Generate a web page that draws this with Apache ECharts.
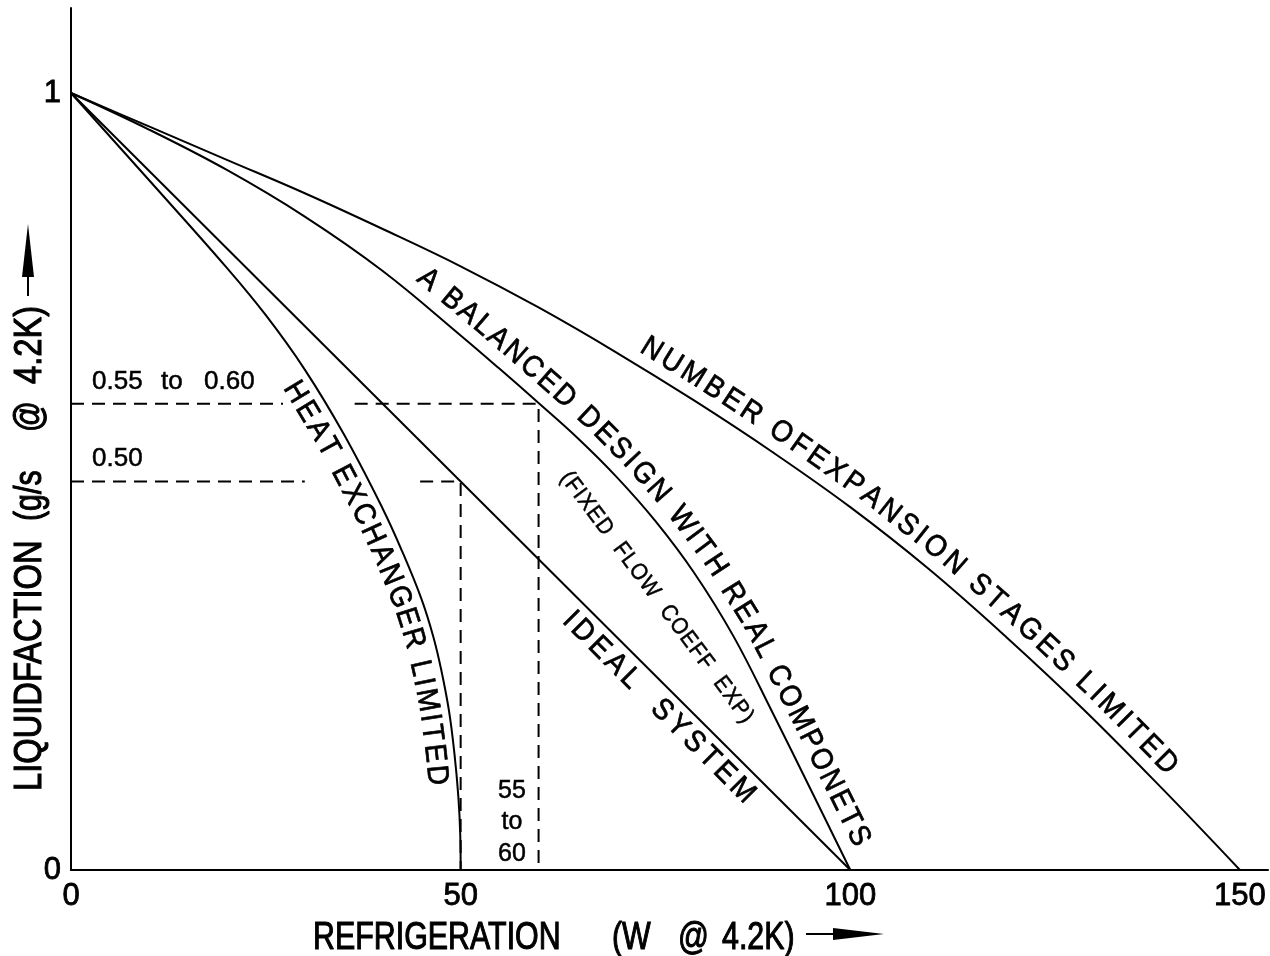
<!DOCTYPE html>
<html>
<head>
<meta charset="utf-8">
<title>Liquefaction vs Refrigeration</title>
<script src="https://cdn.jsdelivr.net/npm/echarts@6.0.0/dist/echarts.min.js"></script>
<style>
html,body{margin:0;padding:0;background:#ffffff;}
#chart{width:1270px;height:956px;}
</style>
</head>
<body>
<div id="chart"></div>
<script>
// ---------------- data ----------------
const xTickValues = [0, 50, 100, 150];
const yTickValues = [0, 1];

const idealX = [0, 100];
const idealY = [1, 0];

const heatX = [0, 10, 20, 25, 30, 35, 40, 42.5, 45, 46.5, 47.5, 48.5, 49.2, 49.7, 49.95, 50];
const heatY = [1, 0.888, 0.775, 0.714, 0.644, 0.561, 0.465, 0.410, 0.348, 0.300, 0.258, 0.205, 0.150, 0.095, 0.045, 0];

const balancedX = [0, 10, 20, 30, 40, 50, 55, 60, 65, 70, 75, 80, 85, 90, 95, 100];
const balancedY = [1, 0.953, 0.901, 0.841, 0.771, 0.688, 0.645, 0.601, 0.556, 0.506, 0.449, 0.382, 0.301, 0.203, 0.102, 0];

const stagesX = [0, 10, 20, 30, 40, 50, 60, 70, 80, 90, 100, 110, 120, 130, 140, 150];
const stagesY = [1, 0.957, 0.914, 0.871, 0.825, 0.777, 0.724, 0.666, 0.604, 0.538, 0.467, 0.388, 0.300, 0.206, 0.105, 0];

const guide60Segments = [[[0, 0.6], [27.2, 0.6]], [[36.4, 0.6], [60, 0.6], [60, 0]]];
const guide50Segments = [[[0, 0.5], [30, 0.5]], [[44.8, 0.5], [50, 0.5], [50, 0]]];

const xAxisTitleParts = ['REFRIGERATION', '(W', '@', '4.2K)'];
const yAxisTitleParts = ['LIQUIDFACTION', '(g/s', '@', '4.2K)'];

// ---------------- chart ----------------
const REGULAR = '"Liberation Sans",Arial,Helvetica,sans-serif';
const NARROW_SCALE = 0.8;
const X_MAX = 153.6, Y_MAX = 1.1094;

const chart = echarts.init(document.getElementById('chart'), null, {renderer: 'canvas'});

function pairs(xs, ys) { return xs.map((x, i) => [x, ys[i]]); }
const solid = {color: '#000', width: 2};
const dashed = {color: '#000', width: 2, type: [13, 8]};

const series = [
  {name: 'Ideal system', data: pairs(idealX, idealY), smooth: false},
  {name: 'Heat exchanger limited', data: pairs(heatX, heatY), smooth: 0.4},
  {name: 'Balanced design', data: pairs(balancedX, balancedY), smooth: 0.4},
  {name: 'Expansion stages limited', data: pairs(stagesX, stagesY), smooth: 0.4}
].map(s => Object.assign({type: 'line', showSymbol: false, symbol: 'none', lineStyle: solid, silent: true, z: 3}, s));

guide60Segments.concat(guide50Segments).forEach((seg, i) => {
  series.push({type: 'line', name: 'guide' + i, data: seg, showSymbol: false, symbol: 'none', lineStyle: dashed, silent: true, z: 2});
});

const tickLabelStyle = {
  color: '#000', fontFamily: REGULAR, fontSize: 31,
  textBorderColor: '#000', textBorderWidth: 0.8, showMaxLabel: false
};

chart.setOption({
  animation: false,
  backgroundColor: '#ffffff',
  grid: {left: 71, right: 2, top: 8, bottom: 86, containLabel: false},
  xAxis: {
    type: 'value', min: 0, max: X_MAX, interval: 50,
    axisLine: {show: true, lineStyle: {color: '#000', width: 2}},
    axisTick: {show: false}, splitLine: {show: false},
    axisLabel: Object.assign({margin: 11, formatter: v => xTickValues.indexOf(v) >= 0 ? String(v) : ''}, tickLabelStyle)
  },
  yAxis: {
    type: 'value', min: 0, max: Y_MAX, interval: 1,
    axisLine: {show: true, lineStyle: {color: '#000', width: 2}},
    axisTick: {show: false}, splitLine: {show: false},
    axisLabel: Object.assign({margin: 10, formatter: v => yTickValues.indexOf(v) >= 0 ? String(v) : ''}, tickLabelStyle)
  },
  series: series
});

// ---------------- text along curves ----------------
const mctx = document.createElement('canvas').getContext('2d');
function toPx(x, y) { return chart.convertToPixel({gridIndex: 0}, [x, y]); }
function buildPath(pts) {
  const cum = [0];
  for (let i = 1; i < pts.length; i++) {
    cum.push(cum[i - 1] + Math.hypot(pts[i][0] - pts[i - 1][0], pts[i][1] - pts[i - 1][1]));
  }
  return {pts, cum, total: cum[cum.length - 1]};
}
function pointAt(path, s) {
  const {pts, cum} = path;
  let i = 1;
  while (i < pts.length - 1 && cum[i] < s) i++;
  const a = pts[i - 1], b = pts[i];
  const L = cum[i] - cum[i - 1] || 1;
  const t = (s - cum[i - 1]) / L;
  return [a[0] + (b[0] - a[0]) * t, a[1] + (b[1] - a[1]) * t];
}
function angleAt(path, s) {
  const p1 = pointAt(path, s - 14), p2 = pointAt(path, s + 14);
  return Math.atan2(p2[1] - p1[1], p2[0] - p1[0]);
}
function arcAtPxX(path, px) {
  const {pts, cum} = path;
  for (let i = 1; i < pts.length; i++) {
    if (pts[i][0] >= px) {
      const a = pts[i - 1], b = pts[i];
      const t = (b[0] - a[0]) ? (px - a[0]) / (b[0] - a[0]) : 0;
      return cum[i - 1] + (cum[i] - cum[i - 1]) * t;
    }
  }
  return path.total;
}
function textAlong(path, text, sStart, sEnd, offset, size, sx, weight) {
  const font = 'normal ' + size + 'px ' + REGULAR;
  mctx.font = font;
  const chars = Array.from(text);
  const widths = chars.map(c => mctx.measureText(c).width * sx);
  const total = widths.reduce((a, b) => a + b, 0);
  const gaps = chars.length - 1;
  const extra = gaps > 0 ? ((sEnd - sStart) - total) / gaps : 0;
  const els = [];
  let s = sStart;
  chars.forEach((c, k) => {
    const mid = s + widths[k] / 2;
    if (c !== ' ') {
      const p = pointAt(path, mid);
      const th = angleAt(path, mid);
      els.push({
        type: 'text', silent: true, z: 10,
        x: p[0] + Math.sin(th) * offset,
        y: p[1] - Math.cos(th) * offset,
        rotation: -th, scaleX: sx,
        style: {text: c, font: font, fill: '#000', stroke: '#000', lineWidth: weight,
                align: 'center', verticalAlign: 'middle', textAlign: 'center', textVerticalAlign: 'middle'}
      });
    }
    s += widths[k] + extra;
  });
  return els;
}

const curvePaths = {
  ideal: buildPath(pairs(idealX, idealY).map(p => toPx(p[0], p[1]))),
  heat: buildPath(pairs(heatX, heatY).map(p => toPx(p[0], p[1]))),
  balanced: buildPath(pairs(balancedX, balancedY).map(p => toPx(p[0], p[1]))),
  stages: buildPath(pairs(stagesX, stagesY).map(p => toPx(p[0], p[1])))
};

const curveLabels = [
  {path: 'stages', text: 'NUMBER OFEXPANSION STAGES LIMITED', from: 72, to: 139.5, offset: 21, size: 30},
  {path: 'balanced', text: 'A BALANCED DESIGN WITH REAL COMPONETS', from: 43.1, to: 99, offset: 22, size: 30},
  {path: 'ideal', text: 'IDEAL  SYSTEM', from: 65.5, to: 89, offset: -20, size: 30},
  {path: 'heat', text: 'HEAT EXCHANGER LIMITED', from: 30.3, to: 49.55, offset: -20, size: 30}
];

const graphics = [];
curveLabels.forEach(l => {
  const path = curvePaths[l.path];
  const s0 = arcAtPxX(path, toPx(l.from, 0)[0]);
  const s1 = arcAtPxX(path, toPx(l.to, 0)[0]);
  textAlong(path, l.text, s0, s1, l.offset, l.size, 0.92, 0.7).forEach(e => graphics.push(e));
});

// straight label "(FIXED FLOW COEFF EXP)"
(function () {
  const a = toPx(63.6, 0.506), b = toPx(86.7, 0.196);
  const path = buildPath([a, b]);
  const txt = '(FIXED  FLOW  COEFF  EXP)';
  mctx.font = 'normal 23px ' + REGULAR;
  const w0 = mctx.measureText('(').width * 0.9, w1 = mctx.measureText(')').width * 0.9;
  textAlong(path, txt, -w0 / 2, path.total + w1 / 2, 0, 23, 0.9, 0.5).forEach(e => graphics.push(e));
})();

function plainText(x, y, text, size, align, rotation, sx, weight) {
  return {type: 'text', silent: true, z: 10, x: x, y: y, rotation: rotation || 0, scaleX: sx || 1,
          style: {text: text, font: 'normal ' + size + 'px ' + REGULAR, fill: '#000',
                  stroke: '#000', lineWidth: weight || 0.5,
                  align: align || 'left', verticalAlign: 'middle', textAlign: align || 'left', textVerticalAlign: 'middle'}};
}
// guide value texts
graphics.push(plainText(92, 382, '0.55', 26, 'left'));
graphics.push(plainText(161, 382, 'to', 26, 'left'));
graphics.push(plainText(204, 382, '0.60', 26, 'left'));
graphics.push(plainText(92, 459, '0.50', 26, 'left'));
graphics.push(plainText(512, 791, '55', 25, 'center'));
graphics.push(plainText(512, 822, 'to', 25, 'center'));
graphics.push(plainText(512, 854, '60', 25, 'center'));

// axis titles (condensed lettering)
const xTitleLeft = [313, 612, 678, 722];
xAxisTitleParts.forEach((t, i) => graphics.push(plainText(xTitleLeft[i], 939, t, 38, 'left', 0, NARROW_SCALE, 1.1)));
const yTitleBottom = [791, 521, 432, 384];
const yTitleScale = [0.86, 0.8, 0.8, 0.86];
yAxisTitleParts.forEach((t, i) => graphics.push(plainText(31, yTitleBottom[i], t, 38, 'left', Math.PI / 2, yTitleScale[i], 1.1)));

// arrows
graphics.push({type: 'line', silent: true, shape: {x1: 806, y1: 934, x2: 845, y2: 934}, style: {stroke: '#000', lineWidth: 2}});
graphics.push({type: 'polygon', silent: true, shape: {points: [[833, 928], [884, 934], [833, 940]]}, style: {fill: '#000'}});
graphics.push({type: 'line', silent: true, shape: {x1: 28, y1: 296, x2: 28, y2: 260}, style: {stroke: '#000', lineWidth: 2}});
graphics.push({type: 'polygon', silent: true, shape: {points: [[22, 277], [28, 224], [34, 277]]}, style: {fill: '#000'}});

chart.setOption({graphic: {elements: graphics}});
</script>
</body>
</html>
